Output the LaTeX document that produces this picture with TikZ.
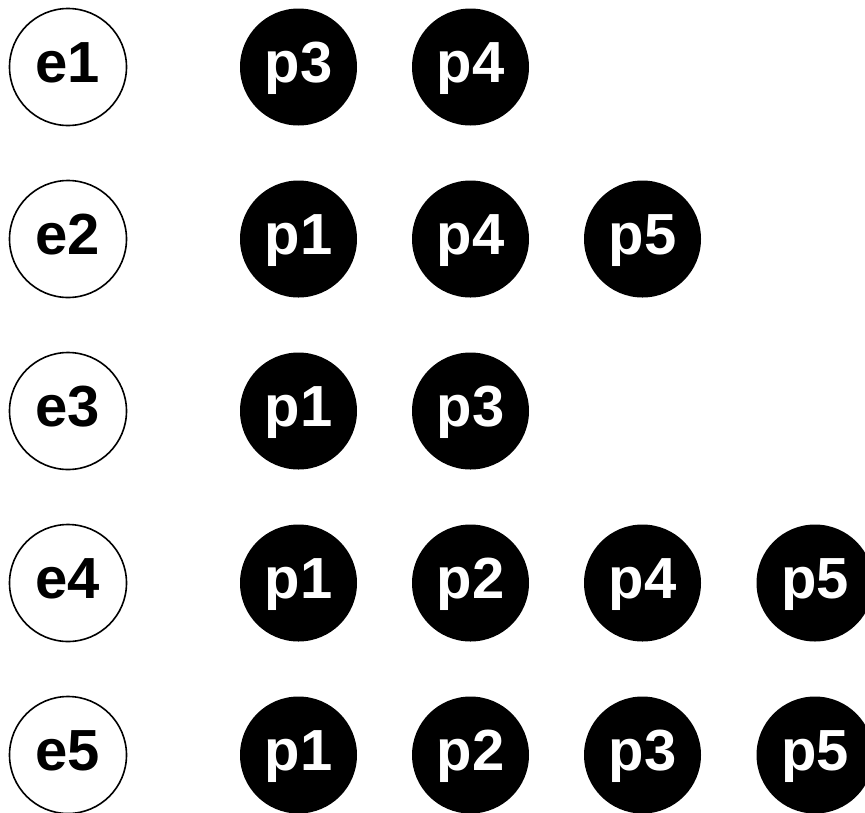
\documentclass[tikz,border=0pt]{standalone}
\usepackage{fontspec}
\setmainfont{Liberation Sans}
\usepackage{tikz}

\tikzset{
 lbl/.style={font=\fontsize{58}{60}\selectfont\bfseries,text height=42pt,text depth=11pt,inner sep=0pt},
 enode/.style={circle,draw,line width=1.6pt,minimum size=117pt,lbl},
 pnode/.style={circle,fill=black,text=white,minimum size=117pt,lbl}
}

\begin{document}
\begin{tikzpicture}[x=1pt,y=-1pt]
\useasboundingbox (0,0) rectangle (865,812);
\clip (0,0) rectangle (865,812);
% left column
\node[enode](e1) at (68,67){e1};
\node[enode](e2) at (68,239){e2};
\node[enode](e3) at (68,411){e3};
\node[enode](e4) at (68,583){e4};
\node[enode](e5) at (68,755){e5};
% row e1
\node[pnode](e1p3) at (298.5,67){p3};
\node[pnode](e1p4) at (470.5,67){p4};
% row e2
\node[pnode](e2p1) at (298.5,239){p1};
\node[pnode](e2p4) at (470.5,239){p4};
\node[pnode](e2p5) at (642.5,239){p5};
% row e3
\node[pnode](e3p1) at (298.5,411){p1};
\node[pnode](e3p3) at (470.5,411){p3};
% row e4
\node[pnode](e4p1) at (298.5,583){p1};
\node[pnode](e4p2) at (470.5,583){p2};
\node[pnode](e4p4) at (642.5,583){p4};
\node[pnode](e4p5) at (815,583){p5};
% row e5
\node[pnode](e5p1) at (298.5,755){p1};
\node[pnode](e5p2) at (470.5,755){p2};
\node[pnode](e5p3) at (642.5,755){p3};
\node[pnode](e5p5) at (815,755){p5};
\end{tikzpicture}
\end{document}
